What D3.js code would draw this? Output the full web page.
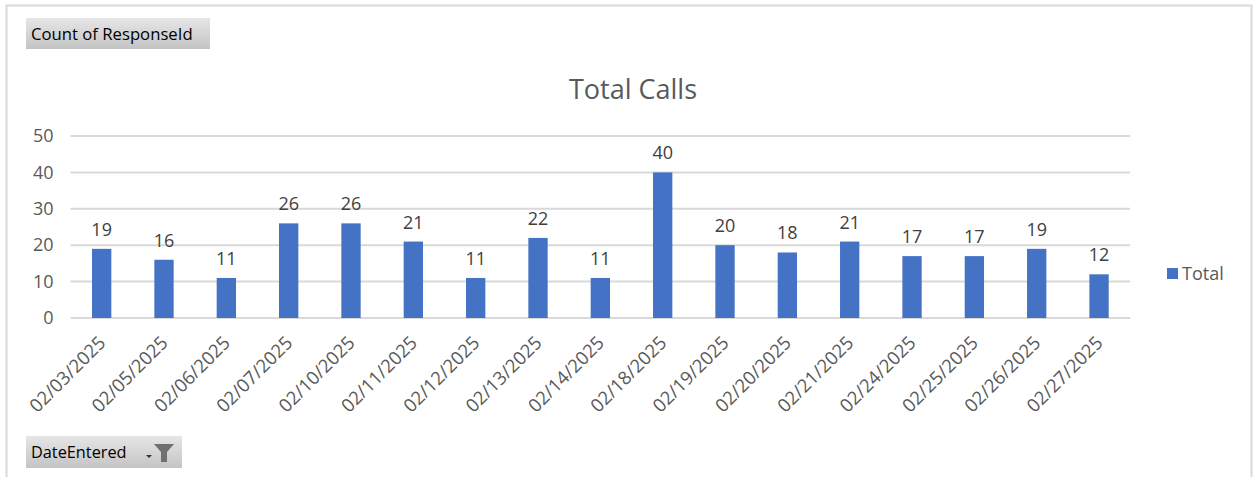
<!DOCTYPE html>
<html>
<head>
<meta charset="utf-8">
<script src="https://cdn.jsdelivr.net/npm/d3@7"></script>
<style>
  body { margin: 0; background: #fff; }
  svg { display: block; font-family: "Segoe UI", "Open Sans", sans-serif; }
</style>
</head>
<body>
<div id="chart"></div>
<script>
// data
const dates = ["02/03/2025", "02/05/2025", "02/06/2025", "02/07/2025", "02/10/2025", "02/11/2025",
  "02/12/2025", "02/13/2025", "02/14/2025", "02/18/2025", "02/19/2025", "02/20/2025",
  "02/21/2025", "02/24/2025", "02/25/2025", "02/26/2025", "02/27/2025"];
const totals = [19, 16, 11, 26, 26, 21, 11, 22, 11, 40, 20, 18, 21, 17, 17, 19, 12];
const yTicks = [0, 10, 20, 30, 40, 50];

const W = 1255, H = 477;
const margin = {top: 136, right: 125, bottom: 159, left: 70.5};
const width = 1130.2 - margin.left,
      height = 318 - margin.top;
const fontStack = "\"Segoe UI\", \"Open Sans\", sans-serif";

const svg = d3.select("#chart").append("svg")
  .attr("width", W)
  .attr("height", H);

// gradient for pivot buttons
const defs = svg.append("defs");
const grad = defs.append("linearGradient")
  .attr("id", "btn").attr("x1", 0).attr("y1", 0).attr("x2", 0).attr("y2", 1);
grad.append("stop").attr("offset", "0%").attr("stop-color", "#e6e6e6");
grad.append("stop").attr("offset", "100%").attr("stop-color", "#c4c4c4");

// outer frame
svg.append("rect")
  .attr("x", 6.5).attr("y", 5.5)
  .attr("width", 1245).attr("height", 480)
  .attr("fill", "none")
  .attr("stroke", "#d9d9d9")
  .attr("stroke-width", 2);

// field buttons
svg.append("rect").attr("x", 26).attr("y", 18).attr("width", 184).attr("height", 31)
  .attr("fill", "url(#btn)");
svg.append("text").attr("x", 31).attr("y", 39.5)
  .text("Count of ResponseId")
  .style("font-size", "16.7px").attr("fill", "#000");

svg.append("rect").attr("x", 26).attr("y", 436).attr("width", 156).attr("height", 32)
  .attr("fill", "url(#btn)");
svg.append("text").attr("x", 31).attr("y", 458)
  .text("DateEntered")
  .style("font-size", "16.3px").attr("fill", "#000");
// dropdown arrow + funnel
svg.append("path").attr("d", "M146,455 l6,0 l-3,3 z").attr("fill", "#333");
svg.append("path").attr("d", "M154,444 l20,0 l-7,8 l0,10 l-6,0 l0,-10 z").attr("fill", "#707070");

// title
svg.append("text")
  .attr("x", 633).attr("y", 99)
  .attr("text-anchor", "middle")
  .text("Total Calls")
  .style("font-size", "27px")
  .attr("fill", "#595959");

const g = svg.append("g")
  .attr("transform", `translate(${margin.left}, ${margin.top})`);

const x = d3.scaleBand()
  .domain(dates)
  .range([0, width])
  .paddingInner(0.69)
  .paddingOuter(0.345);

const y = d3.scaleLinear()
  .domain([0, 50])
  .range([height, 0]);

// gridlines
g.append("g")
  .selectAll("line")
  .data(yTicks)
  .join("line")
    .attr("x1", 0).attr("x2", width)
    .attr("y1", d => y(d)).attr("y2", d => y(d))
    .attr("stroke", "#d9d9d9")
    .attr("stroke-width", 2);

// y axis labels
const yAxis = g.append("g")
  .call(d3.axisLeft(y).tickValues(yTicks).tickSize(0).tickPadding(17));
yAxis.select(".domain").remove();
yAxis.selectAll("text")
  .style("font-size", "18px")
  .style("font-family", fontStack)
  .attr("fill", "#595959");

// bars
g.append("g")
  .selectAll("rect")
  .data(totals)
  .join("rect")
    .attr("x", (d, i) => x(dates[i]))
    .attr("y", d => y(d))
    .attr("width", x.bandwidth())
    .attr("height", d => height - y(d))
    .attr("fill", "#4472c4");

// data labels
g.append("g")
  .selectAll("text")
  .data(totals)
  .join("text")
    .attr("x", (d, i) => x(dates[i]) + x.bandwidth() / 2)
    .attr("y", d => y(d) - 13)
    .attr("text-anchor", "middle")
    .text(d => d)
    .style("font-size", "18px")
    .attr("fill", "#404040");

// x axis labels
const xAxis = g.append("g")
  .attr("transform", `translate(0, ${height})`)
  .call(d3.axisBottom(x).tickSize(0).tickPadding(0));
xAxis.select(".domain").remove();
xAxis.selectAll("text")
  .attr("text-anchor", "end")
  .attr("dy", null)
  .attr("transform", "translate(5, 26) rotate(-45)")
  .style("font-size", "18.5px")
  .style("font-family", fontStack)
  .attr("fill", "#595959");

// legend
svg.append("rect")
  .attr("x", 1167).attr("y", 268)
  .attr("width", 11).attr("height", 11)
  .attr("fill", "#4472c4");
svg.append("text")
  .attr("x", 1182).attr("y", 280)
  .text("Total")
  .style("font-size", "18px")
  .attr("fill", "#595959");
</script>
</body>
</html>
